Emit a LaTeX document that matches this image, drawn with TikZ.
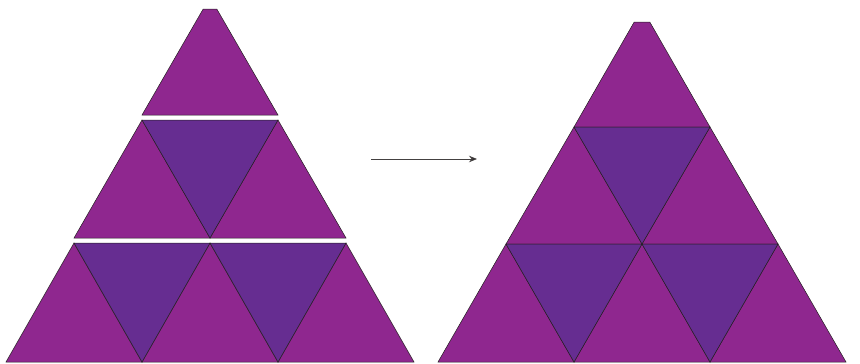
\documentclass[tikz,border=0pt]{standalone}
\usetikzlibrary{arrows.meta}
\definecolor{lightp}{RGB}{143,39,143}
\definecolor{darkp}{RGB}{102,45,145}
\definecolor{edge}{RGB}{35,31,32}
\tikzset{
  upt/.style={fill=lightp,draw=edge,line width=0.5pt,line join=miter},
  dnt/.style={fill=darkp,draw=edge,line width=0.5pt,line join=miter},
  arr/.style={draw=edge!85,line width=0.9pt,-{Stealth[length=8pt,width=6.5pt,fill=edge]}}
}
\begin{document}
\begin{tikzpicture}[x=1pt,y=-1pt]
\useasboundingbox (0,0) rectangle (860,364);
% ---- left, separated rows ----
\draw[upt] (142,115) -- (278,115) -- (216.8,9) -- (203.2,9) -- cycle;
% row 2
\draw[upt] (74,238) -- (210,238) -- (142,120) -- cycle;
\draw[upt] (210,238) -- (346,238) -- (278,120) -- cycle;
\draw[dnt] (142,120) -- (278,120) -- (210,238) -- cycle;
% row 3
\draw[upt] (6,362) -- (142,362) -- (74,243) -- cycle;
\draw[upt] (142,362) -- (278,362) -- (210,243) -- cycle;
\draw[upt] (278,362) -- (414,362) -- (346,243) -- cycle;
\draw[dnt] (74,243) -- (210,243) -- (142,362) -- cycle;
\draw[dnt] (210,243) -- (346,243) -- (278,362) -- cycle;
% ---- arrow ----
\coordinate (a1) at (371,159);
\coordinate (a2) at (477,159);
\draw[arr] (a1) -- (a2);
% ---- right, joined ----
\draw[upt] (574,127) -- (710,127) -- (649.8,22) -- (634.2,22) -- cycle;
\draw[upt] (506,244) -- (642,244) -- (574,127) -- cycle;
\draw[upt] (642,244) -- (778,244) -- (710,127) -- cycle;
\draw[dnt] (574,127) -- (710,127) -- (642,244) -- cycle;
\draw[upt] (438,362) -- (574,362) -- (506,244) -- cycle;
\draw[upt] (574,362) -- (710,362) -- (642,244) -- cycle;
\draw[upt] (710,362) -- (846,362) -- (778,244) -- cycle;
\draw[dnt] (506,244) -- (642,244) -- (574,362) -- cycle;
\draw[dnt] (642,244) -- (778,244) -- (710,362) -- cycle;
\end{tikzpicture}
\end{document}
